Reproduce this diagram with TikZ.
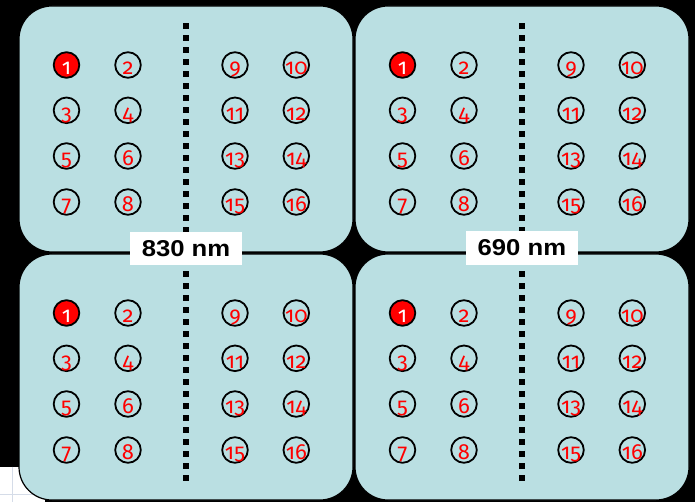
\documentclass[tikz,border=0pt]{standalone}
\usepackage{fontspec}
\newfontfamily\numfont[Numbers=OldStyle]{Fira Sans}
\newfontfamily\labfont{Liberation Sans}
\definecolor{panelblue}{HTML}{BADFE2}
\definecolor{gridgrey}{HTML}{D5DCE8}

\tikzset{
  panel/.style={fill=panelblue, draw=black, line width=1.2bp, rounded corners=33bp},
  hole/.style={circle, draw=black, line width=1.8bp, minimum size=25.6bp, inner sep=0pt},
  holeon/.style={hole, fill=red},
  num/.style={anchor=base, inner sep=0pt, text=red, font=\numfont\fontsize{22}{22}\selectfont},
  numon/.style={num, text=white},
  dotline/.style={line width=6bp, line cap=butt, dash pattern=on 5.5bp off 6.5bp},
  tag/.style={fill=white, minimum width=112bp, minimum height=33bp, inner sep=0pt,
    font=\labfont\bfseries\fontsize{23}{23}\selectfont},
  gridline/.style={draw=gridgrey, line width=1bp}
}

\begin{document}
\begin{tikzpicture}[x=1bp, y=-1bp]
\useasboundingbox (0,0) rectangle (695,502);
% background
\fill[black] (0,0) rectangle (695,502);
\fill[white] (0,466.7) rectangle (45,502);
\draw[gridline] (12,466.7) -- (12,502);
\draw[gridline] (0,494.3) -- (45,494.3);

% four panels, each with sixteen holes and a dotted divider
\foreach \px/\dx/\dy in {a/0/0, b/336/0, c/0/248, d/336/248}{
  \begin{scope}[shift={(\dx,\dy)}]
    \path[panel] (19,6) rectangle (353,252);
    \draw[dotline] (185.7,23.3) -- (185.7,232.8);
    \foreach \n/\x/\y in {
        1/66.5/65, 2/128/65, 3/66.5/110.3, 4/128/110.3,
        5/66.5/156, 6/128/156, 7/66.5/202, 8/128/202,
        9/235/65, 10/296.3/65, 11/235/110.3, 12/296.3/110.3,
        13/235/156, 14/296.3/156, 15/235/202, 16/296.3/202}{
      \ifnum\n=1
        \node[holeon] (\px-h\n) at (\x,\y) {};
        \node[numon] (\px-t\n) at (\x,\y+9.8) {\n};
      \else
        \node[hole] (\px-h\n) at (\x,\y) {};
        \node[num] (\px-t\n) at (\x,\y+9.8) {\n};
      \fi
    }
  \end{scope}
}

% wavelength tags
\node[tag] (w830) at (186,248.6) {\scalebox{1.12}[1]{830 nm}};
\node[tag] (w690) at (521.9,248) {\scalebox{1.12}[1]{690 nm}};
\end{tikzpicture}
\end{document}
